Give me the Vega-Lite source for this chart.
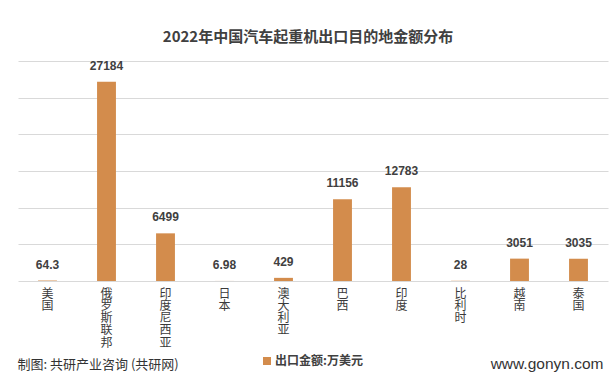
{
  "$schema": "https://vega.github.io/schema/vega-lite/v6.json",
  "autosize": "none",
  "width": 590,
  "height": 220,
  "padding": {"left": 18, "top": 61, "right": 8, "bottom": 106},
  "background": "white",
  "title": {
    "text": "2022年中国汽车起重机出口目的地金额分布",
    "font": "Noto Sans CJK SC",
    "fontSize": 15,
    "fontWeight": "bold",
    "color": "#404040",
    "offset": 15,
    "dx": -5
  },
  "data": {
    "values": [
      {"country": "美国", "value": 64.3, "label": "64.3"},
      {"country": "俄罗斯联邦", "value": 27184, "label": "27184"},
      {"country": "印度尼西亚", "value": 6499, "label": "6499"},
      {"country": "日本", "value": 6.98, "label": "6.98"},
      {"country": "澳大利亚", "value": 429, "label": "429"},
      {"country": "巴西", "value": 11156, "label": "11156"},
      {"country": "印度", "value": 12783, "label": "12783"},
      {"country": "比利时", "value": 28, "label": "28"},
      {"country": "越南", "value": 3051, "label": "3051"},
      {"country": "泰国", "value": 3035, "label": "3035"}
    ]
  },
  "encoding": {
    "x": {
      "field": "country",
      "type": "nominal",
      "sort": null,
      "scale": {"paddingInner": 0.68, "paddingOuter": 0.34},
      "axis": {
        "title": "www.gonyn.com",
        "titleFont": "Liberation Sans",
        "titleFontSize": 15.5,
        "titleFontWeight": "normal",
        "titleColor": "#333333",
        "titleAnchor": "end",
        "titleAlign": "right",
        "titleBaseline": "middle",
        "titleX": 585,
        "titleY": 82,
        "labelAngle": 0,
        "labelExpr": "split(datum.label, '')",
        "labelFont": "Noto Sans CJK SC",
        "labelFontSize": 12,
        "labelLineHeight": 12.3,
        "labelColor": "#3a3a3a",
        "labelBaseline": "top",
        "labelPadding": 7,
        "labelOverlap": false,
        "ticks": false,
        "domainColor": "#d9d9d9",
        "grid": false
      }
    },
    "y": {
      "field": "value",
      "type": "quantitative",
      "scale": {"domain": [0, 30000], "nice": false},
      "axis": {
        "title": "制图: 共研产业咨询 (共研网)",
        "titleFont": "Noto Sans CJK SC",
        "titleFontSize": 13,
        "titleFontWeight": "normal",
        "titleColor": "#333333",
        "titleAngle": 0,
        "titleAlign": "left",
        "titleBaseline": "middle",
        "titleX": -1,
        "titleY": 303,
        "labels": false,
        "ticks": false,
        "domain": false,
        "grid": true,
        "gridColor": "#d9d9d9",
        "values": [5000, 10000, 15000, 20000, 25000, 30000]
      }
    }
  },
  "layer": [
    {
      "mark": {"type": "bar"},
      "encoding": {
        "color": {
          "datum": "出口金额:万美元",
          "type": "nominal",
          "scale": {"range": ["#D38C4C"]},
          "legend": {
            "title": null,
            "orient": "none",
            "legendX": 243,
            "legendY": 294,
            "symbolType": "square",
            "symbolSize": 64,
            "symbolStrokeWidth": 0,
            "labelFont": "Noto Sans CJK SC",
            "labelFontSize": 12,
            "labelFontWeight": "bold",
            "labelColor": "#404040",
            "labelOffset": 2
          }
        }
      }
    },
    {
      "mark": {
        "type": "text",
        "dy": -9,
        "baseline": "bottom",
        "font": "Liberation Sans",
        "fontSize": 12,
        "fontWeight": "bold",
        "color": "#404040"
      },
      "encoding": {
        "text": {"field": "label"}
      }
    }
  ],
  "config": {
    "view": {"stroke": null}
  }
}
